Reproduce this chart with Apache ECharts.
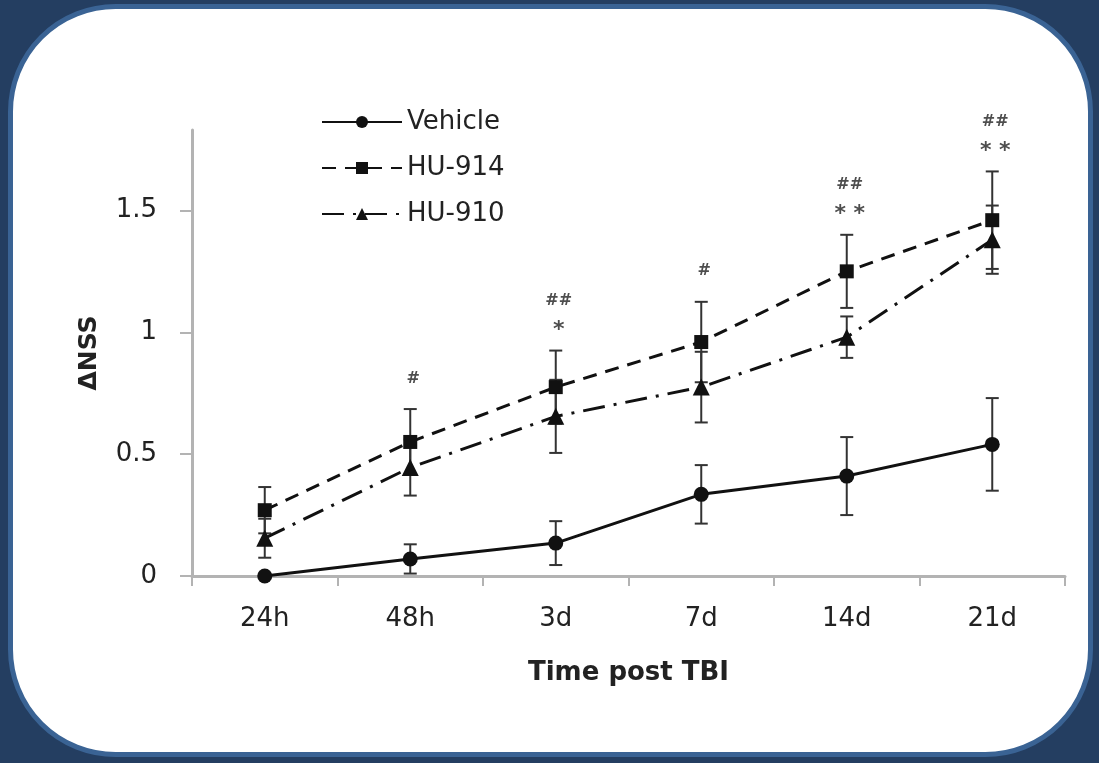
<!DOCTYPE html>
<html>

<head>
    <meta charset="utf-8">
    <title>NSS over time post TBI</title>
    <script src="https://cdn.jsdelivr.net/npm/echarts@6/dist/echarts.min.js"></script>
    <style>
        html, body { margin: 0; padding: 0; background: #243e61; }
    </style>
</head>

<body>
    <div id="main" style="width: 1099px;height:763px;"></div>
    <script type="text/javascript">
        // data
        var categories = ['24h', '48h', '3d', '7d', '14d', '21d'];
        var vehicle = [0, 0.07, 0.135, 0.335, 0.41, 0.54];
        var vehicleErr = [0, 0.06, 0.09, 0.12, 0.16, 0.19];
        var hu914 = [0.27, 0.55, 0.775, 0.96, 1.25, 1.46];
        var hu914Err = [0.095, 0.135, 0.15, 0.165, 0.15, 0.2];
        var hu910 = [0.155, 0.445, 0.655, 0.775, 0.98, 1.38];
        var hu910Err = [0.08, 0.115, 0.15, 0.145, 0.085, 0.14];
        // significance marks above each time point
        var hashMarks = ['', '#', '##', '#', '##', '##'];
        var starMarks = ['', '', '*', '', '**', '**'];
        var yTicks = [0, 0.5, 1, 1.5];

        var font = 'DejaVu Sans';
        var ink = '#222';
        var axisGray = '#b3b3b3';

        function errData(vals, errs) {
            var out = [];
            for (var i = 0; i < vals.length; i++) {
                if (errs[i] > 0) out.push([i, vals[i] - errs[i], vals[i] + errs[i]]);
            }
            return out;
        }

        function errSeries(vals, errs) {
            return {
                type: 'custom',
                z: 1,
                silent: true,
                data: errData(vals, errs),
                renderItem: function (params, api) {
                    var x = api.value(0);
                    var lo = api.coord([x, api.value(1)]);
                    var hi = api.coord([x, api.value(2)]);
                    var w = 6.5;
                    var st = { stroke: '#333', lineWidth: 2 };
                    return {
                        type: 'group',
                        children: [
                            { type: 'line', shape: { x1: lo[0], y1: lo[1], x2: hi[0], y2: hi[1] }, style: st },
                            { type: 'line', shape: { x1: lo[0] - w, y1: lo[1], x2: lo[0] + w, y2: lo[1] }, style: st },
                            { type: 'line', shape: { x1: hi[0] - w, y1: hi[1], x2: hi[0] + w, y2: hi[1] }, style: st }
                        ]
                    };
                }
            };
        }

        // annotations sit on the highest error bar of each time point
        var markData = [];
        var markText = [];
        for (var k = 0; k < categories.length; k++) {
            if (!hashMarks[k] && !starMarks[k]) continue;
            var peak = Math.max(vehicle[k] + vehicleErr[k], hu914[k] + hu914Err[k], hu910[k] + hu910Err[k]);
            var txt = '{h|' + hashMarks[k] + '}';
            if (starMarks[k]) txt += '\n{s|' + starMarks[k].split('').join(' ') + '}';
            else txt += '\n{g| }';
            markData.push([k, peak]);
            markText.push(txt);
        }

        var myChart = echarts.init(document.getElementById('main'));

        var option = {
            backgroundColor: '#243e61',
            animation: false,
            graphic: [{
                type: 'rect',
                z: -10,
                shape: { x: 10.5, y: 6.5, width: 1080, height: 748, r: 105 },
                style: { fill: '#ffffff', stroke: '#3a6394', lineWidth: 5 }
            }],
            legend: {
                orient: 'vertical',
                left: 316,
                top: 104,
                itemWidth: 80,
                itemHeight: 15,
                itemGap: 20,
                data: ['Vehicle', 'HU-914', 'HU-910'],
                textStyle: { fontFamily: font, fontSize: 26, color: ink }
            },
            grid: {
                left: 192,
                right: 34,
                top: 130,
                bottom: 187
            },
            xAxis: {
                type: 'category',
                data: categories,
                boundaryGap: true,
                name: 'Time post TBI',
                nameLocation: 'middle',
                nameGap: 84,
                nameTextStyle: { fontFamily: font, fontSize: 26, fontWeight: 'bold', color: ink },
                axisLine: { lineStyle: { color: axisGray, width: 3 } },
                axisTick: { show: true, alignWithLabel: false, interval: 0, length: 10, lineStyle: { color: axisGray, width: 2 } },
                axisLabel: { fontFamily: font, fontSize: 26, color: ink, margin: 30 }
            },
            yAxis: {
                type: 'value',
                min: 0,
                max: 1.83,
                interval: 0.5,
                name: 'ΔNSS',
                nameLocation: 'middle',
                nameRotate: 90,
                nameGap: 90,
                nameTextStyle: { fontFamily: font, fontSize: 25, fontWeight: 'bold', color: ink },
                splitLine: { show: false },
                axisLine: { show: true, lineStyle: { color: axisGray, width: 3 } },
                axisTick: { show: true, length: 12, customValues: yTicks, lineStyle: { color: axisGray, width: 2 } },
                axisLabel: { fontFamily: font, fontSize: 26, color: ink, margin: 35, customValues: yTicks }
            },
            series: [
                errSeries(vehicle, vehicleErr),
                errSeries(hu914, hu914Err),
                errSeries(hu910, hu910Err),
                {
                    name: 'Vehicle',
                    type: 'line',
                    z: 3,
                    data: vehicle,
                    symbol: 'circle',
                    symbolSize: 15,
                    itemStyle: { color: '#111' },
                    lineStyle: { color: '#111', width: 3 }
                },
                {
                    name: 'HU-914',
                    type: 'line',
                    z: 3,
                    data: hu914,
                    symbol: 'rect',
                    symbolSize: 14,
                    itemStyle: { color: '#111' },
                    lineStyle: { color: '#111', width: 3, type: [14, 9] }
                },
                {
                    name: 'HU-910',
                    type: 'line',
                    z: 3,
                    data: hu910,
                    symbol: 'triangle',
                    symbolSize: 17,
                    itemStyle: { color: '#111' },
                    lineStyle: { color: '#111', width: 3, type: [22, 9, 3, 9] }
                },
                {
                    type: 'scatter',
                    symbolSize: 0,
                    clip: false,
                    silent: true,
                    data: markData,
                    label: {
                        show: true,
                        position: 'top',
                        distance: 6,
                        offset: [3, 0],
                        formatter: function (p) { return markText[p.dataIndex]; },
                        rich: {
                            h: { fontFamily: font, fontSize: 16, fontWeight: 'bold', color: ink, lineHeight: 29 },
                            s: { fontFamily: font, fontSize: 22, fontWeight: 'bold', color: ink, lineHeight: 29 },
                            g: { fontSize: 8, lineHeight: 10 }
                        }
                    }
                }
            ]
        };

        myChart.setOption(option);
    </script>
</body>

</html>
